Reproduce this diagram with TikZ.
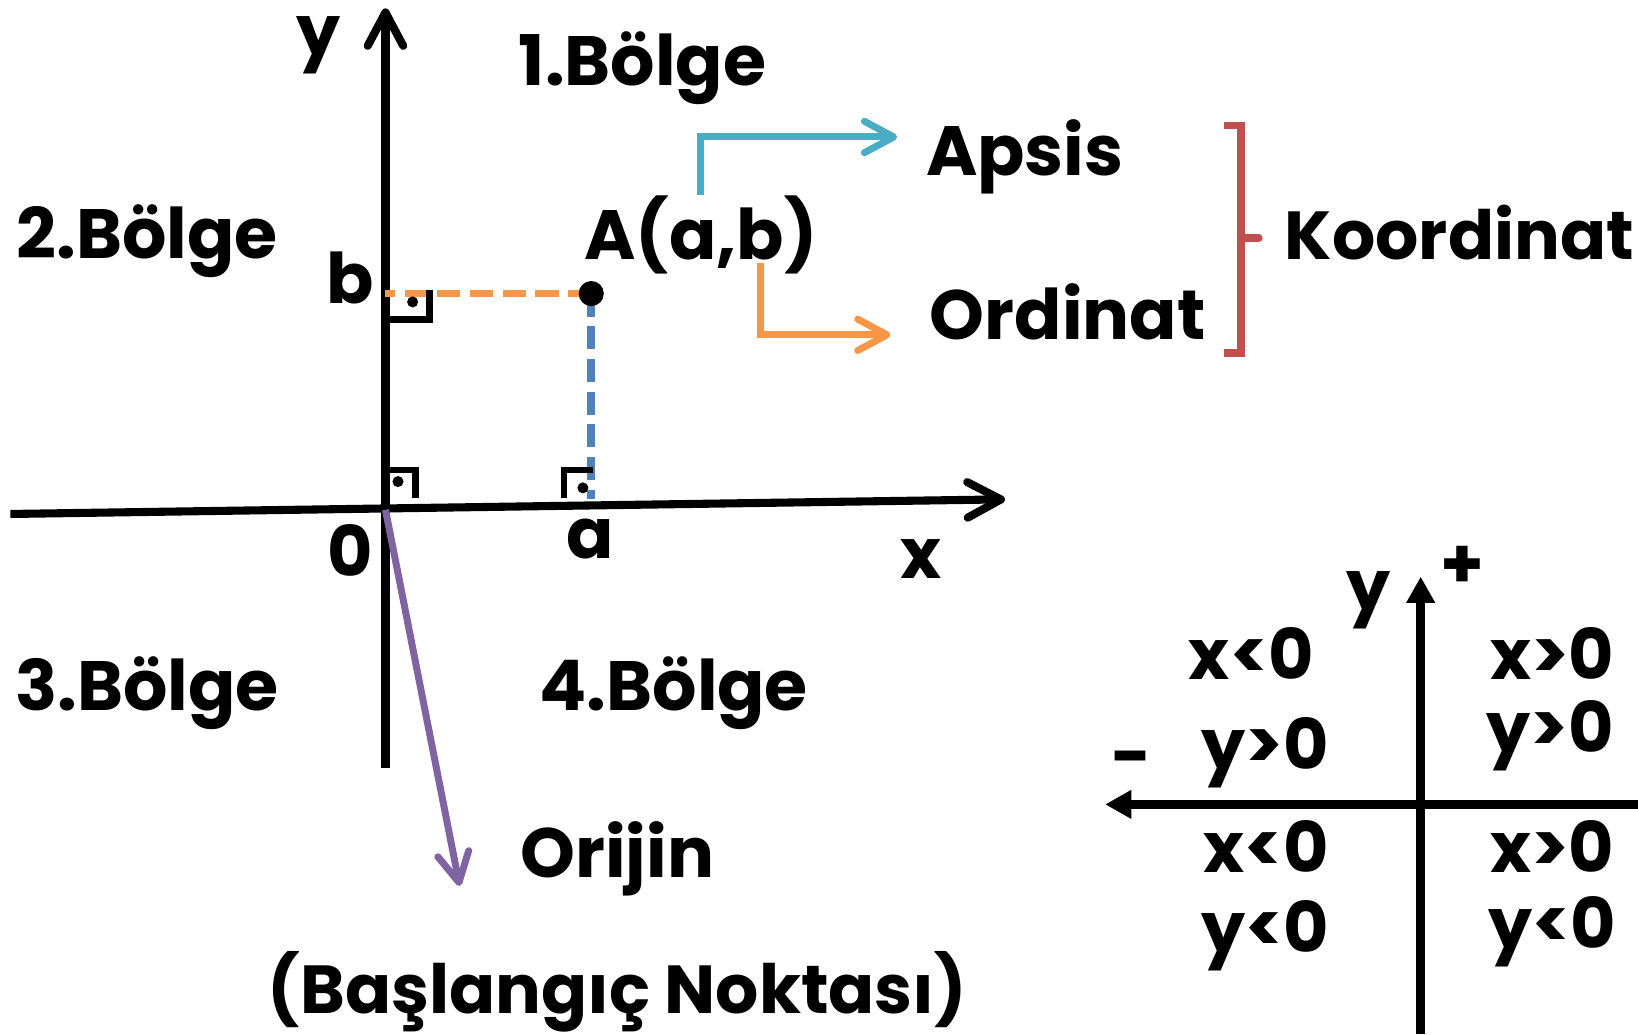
\documentclass[tikz,border=0pt]{standalone}
\usepackage{fontspec}
\setmainfont{Poppins}
\usepackage{tikz}
\usetikzlibrary{arrows.meta, positioning}
\definecolor{apsisblue}{HTML}{4BACC6}
\definecolor{ordorange}{HTML}{F79646}
\definecolor{dashblue}{HTML}{4F81BD}
\definecolor{bracered}{HTML}{C0504D}
\definecolor{origpurple}{HTML}{8064A2}

\begin{document}
\begin{tikzpicture}[
  x=0.01cm, y=-0.01cm,
  every node/.style={font=\fontsize{19}{22}\selectfont\bfseries, inner sep=0pt},
  lbl/.style={anchor=base},
  axis/.style={line width=2.2pt, -{Straight Barb[round, length=3.2mm, width=3.4mm]}},
  minaxis/.style={line width=2.3pt, -{Triangle[length=2.5mm, width=2.6mm]}},
  guide/.style={line width=1.9pt, -{Straight Barb[round, length=2.8mm, width=3mm]}},
  proj/.style={line width=2.1pt, dash pattern=on 6.3pt off 2.6pt},
  rangle/.style={line width=1.8pt},
  dotmark/.style={circle, fill=black, inner sep=0pt, minimum size=#1},
]
  \useasboundingbox (0,0) rectangle (1568,990);

  \coordinate (O) at (369,488);
  \coordinate (ytop) at (369,8);
  \coordinate (ybot) at (369,735);
  \coordinate (xleft) at (10,492);
  \coordinate (xright) at (962,478);
  \coordinate (Ap) at (566,281);
  \coordinate (atick) at (566,478);

  \draw[axis] (ybot) -- (ytop);
  \draw[axis] (xleft) -- (xright);

  \draw[proj, ordorange] (Ap) -- (Ap -| O);
  \draw[proj, dashblue] (Ap) -- (atick);
  \node[dotmark=0.24cm] (A) at (Ap) {};

  \draw[rangle] (372,306) -- (411,306) -- (411,278);
  \fill (395,289) circle[radius=1.5pt];
  \draw[rangle] (372,450) -- (398,450) -- (398,477);
  \fill (381,461) circle[radius=1.5pt];
  \draw[rangle] (568,450) -- (540,450) -- (540,477);
  \fill (558,467) circle[radius=1.5pt];

  \node (ylab) at (305,43) {y};
  \node (xlab) at (882,535) {x};
  \node (olab) at (335,527) {0};
  \node (alab) at (565,516) {a};
  \node (blab) at (335,266) {b};

  \node[lbl] (bolge1) at (615,82) {1.Bölge};
  \node[lbl] (bolge2) at (141,247) {2.Bölge};
  \node[lbl] (bolge3) at (141,680) {3.Bölge};
  \node[lbl] (bolge4) at (645,680) {4.Bölge};

  \node[lbl] (Aab) at (671,248) {A(a,b)};
  \node[lbl] (apsis) at (981,168) {Apsis};
  \node[lbl] (ordinat) at (1022,325) {Ordinat};
  \coordinate (ordstart) at (728,252);
  \draw[guide, apsisblue] (Aab.north) |- ([xshift=-0.27cm, yshift=0.19cm]apsis.west);
  \draw[guide, ordorange] (ordstart) |- ([xshift=-0.37cm, yshift=-0.22cm]ordinat.west);

  \coordinate (brtop) at (1188,120);
  \coordinate (brbot) at (1188,338);
  \coordinate (brmid) at (1188,228);
  \draw[bracered, line width=2.1pt] ([xshift=-0.16cm]brtop) -- (brtop) -- (brbot) -- ([xshift=-0.16cm]brbot);
  \draw[bracered, line width=2.1pt, line cap=round] (brmid) -- ++(17,0);
  \node[lbl, font=\fontsize{18.5}{22}\selectfont\bfseries] (koord) at (1397,248) {Koordinat};

  \coordinate (orijtip) at (440,848);
  \draw[guide, origpurple] (O) -- (orijtip);
  \node[lbl] (orijin) at (591,840) {Orijin};
  \node[lbl, font=\fontsize{18.5}{22}\selectfont\bfseries] (baslangic) at (591,970) {(Başlangıç Noktası)};

  \coordinate (Q) at (1360,770);
  \draw[minaxis] (1360,990) -- (1360,552);
  \draw[minaxis] (1568,770) -- (1058,770);
  \node (qy) at (1310,575) {y};
  \node (qplus) at (1400,543) {+};
  \node (qminus) at (1083,733) {-};
  \node[lbl] (q2x) at (1198,650) {x<0};
  \node[lbl] (q2y) at (1211,737) {y>0};
  \node[lbl] (q1x) at (1486,650) {x>0};
  \node[lbl] (q1y) at (1484,720) {y>0};
  \node[lbl] (q3x) at (1212,835) {x<0};
  \node[lbl] (q3y) at (1211,912) {y<0};
  \node[lbl] (q4x) at (1486,835) {x>0};
  \node[lbl] (q4y) at (1486,908) {y<0};
\end{tikzpicture}
\end{document}
